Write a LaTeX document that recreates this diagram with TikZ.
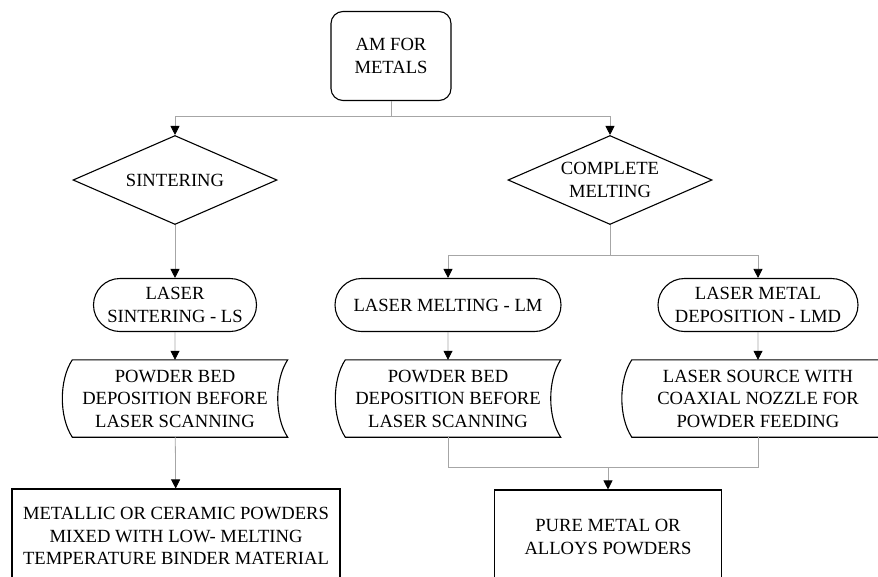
\documentclass[tikz,border=0pt]{standalone}
\usepackage{fontspec}
\setmainfont{Liberation Serif}
\newfontfamily\chartfont{Liberation Serif}
\usepackage{tikz}
\usetikzlibrary{positioning,arrows.meta,shapes.geometric,shapes.misc}

% outline of a "stored data" node, drawn round a plain node
\newcommand{\storedoutline}[1]{%
  \draw[line width=1.1pt] ([xshift=5pt]#1.north west) -- ([xshift=5pt]#1.north east)
    .. controls ([xshift=-8.3pt,yshift=-20pt]#1.north east) and ([xshift=-8.3pt,yshift=20pt]#1.south east) .. ([xshift=5pt]#1.south east)
    -- ([xshift=5pt]#1.south west)
    .. controls ([xshift=-8.3pt,yshift=20pt]#1.south west) and ([xshift=-8.3pt,yshift=-20pt]#1.north west) .. cycle;}

\begin{document}
\begin{tikzpicture}[x=1pt, y=-1pt,
  every node/.style={font=\chartfont\fontsize{18.6}{22.5}\selectfont, align=center, inner sep=0pt},
  startbox/.style={draw, line width=1.1pt, rounded corners=12pt, minimum width=120pt, minimum height=89pt},
  decision/.style={draw, line width=1.1pt, diamond, shape aspect=2.3, minimum width=204pt, minimum height=89pt},
  process/.style={draw, line width=1.1pt, rounded rectangle, minimum height=53pt},
  stored/.style={minimum height=77pt},
  result/.style={draw, line width=1.1pt, rectangle, minimum height=94pt},
  conn/.style={draw=black!35, line width=0.8pt, -{Triangle[length=9pt,width=9pt,color=black]}},
  joinline/.style={draw=black!35, line width=0.8pt}]

\clip (0,0) rectangle (878,576);

\node[startbox] (am) at (391,56) {AM FOR\\METALS};

\node[decision] (sint) at (175,180) {SINTERING};
\node[decision] (cmelt) at (610,180) {COMPLETE\\MELTING};

\node[process, minimum width=163pt] (ls) at (175,305) {LASER\\SINTERING - LS};
\node[process, minimum width=226pt] (lm) at (448,305) {LASER MELTING - LM};
\node[process, minimum width=200pt] (lmd) at (758,305) {LASER METAL\\DEPOSITION - LMD};

\node[stored, minimum width=215pt] (bedls) at (175,398.5) {POWDER BED\\DEPOSITION BEFORE\\LASER SCANNING};
\node[stored, minimum width=215pt] (bedlm) at (448,398.5) {POWDER BED\\DEPOSITION BEFORE\\LASER SCANNING};
\node[stored, minimum width=262pt] (nozzle) at (758,398.5) {LASER SOURCE WITH\\COAXIAL NOZZLE FOR\\POWDER FEEDING};
\storedoutline{bedls}
\storedoutline{bedlm}
\storedoutline{nozzle}

\node[result, minimum width=328pt] (binder) at (176,536) {METALLIC OR CERAMIC POWDERS\\MIXED WITH LOW- MELTING\\TEMPERATURE BINDER MATERIAL};
\node[result, minimum width=227pt] (pure) at (608,537) {PURE METAL OR\\ALLOYS POWDERS};

\coordinate (split) at (391,116);
\coordinate (join) at (608,467);

\draw[joinline] (am) -- (split);
\draw[conn] (split) -| (sint);
\draw[conn] (split) -| (cmelt);

\draw[conn] (sint) -- (ls);
\draw[joinline] (cmelt.south) -- ++(0,30) coordinate (fork);
\draw[conn] (fork) -| (lm);
\draw[conn] (fork) -| (lmd);

\draw[conn] (ls) -- (bedls);
\draw[conn] (lm) -- (bedlm);
\draw[conn] (lmd) -- (nozzle);

\draw[conn] (bedls) -- (binder);
\draw[joinline] (bedlm) |- (join);
\draw[joinline] (nozzle) |- (join);
\draw[conn] (join) -- (pure);
\end{tikzpicture}
\end{document}
